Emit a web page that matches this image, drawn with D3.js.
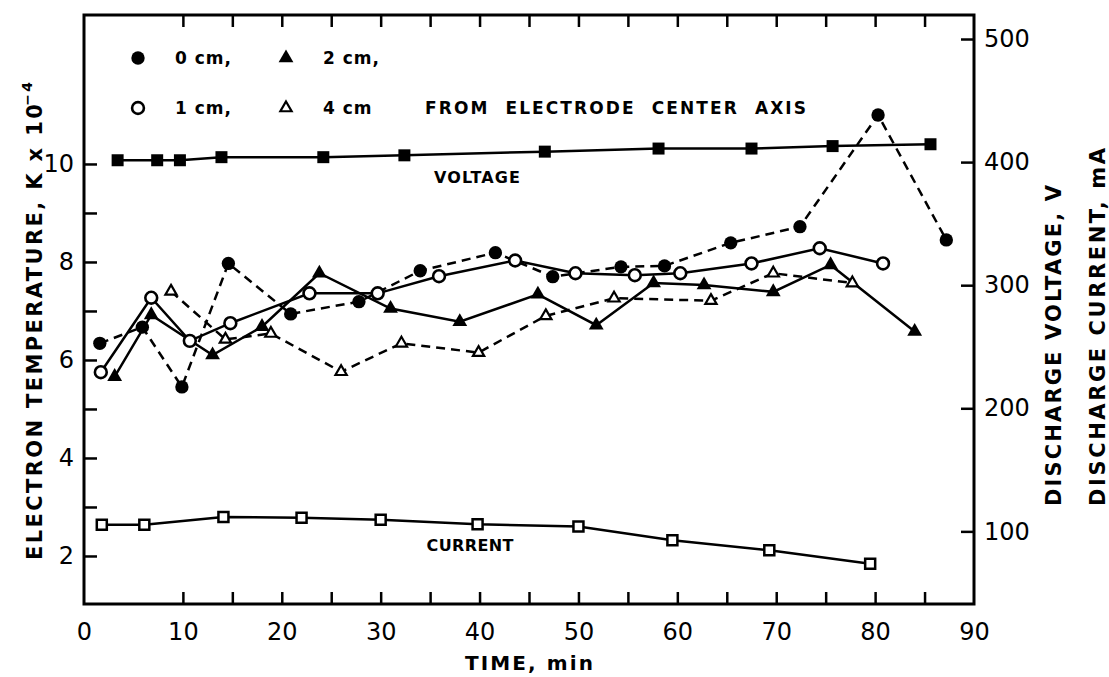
<!DOCTYPE html>
<html>
<head>
<meta charset="utf-8">
<script src="https://cdn.jsdelivr.net/npm/d3@7/dist/d3.min.js"></script>
<style>
  html, body { margin: 0; padding: 0; background: #fff; }
  svg { display: block; }
  text { fill: #000; }
</style>
</head>
<body>
<svg id="chart" width="1109" height="677"></svg>
<script>
// Electron temperature (K x 10^4) at four distances from the electrode axis
const time0cm = [1.6, 5.9, 9.9, 14.6, 20.9, 27.8, 34.0, 41.6, 47.4, 54.3, 58.7, 65.4, 72.4, 80.3, 87.2];
const temp0cm = [6.34, 6.67, 5.45, 7.97, 6.94, 7.19, 7.82, 8.19, 7.70, 7.90, 7.92, 8.39, 8.72, 11.0, 8.45];

const time1cm = [1.7, 6.8, 10.7, 14.8, 22.8, 29.7, 35.9, 43.6, 49.7, 55.7, 60.3, 67.5, 74.4, 80.8];
const temp1cm = [5.75, 7.27, 6.39, 6.75, 7.36, 7.36, 7.71, 8.03, 7.77, 7.73, 7.77, 7.97, 8.28, 7.97];

const time2cm = [3.1, 6.8, 13.0, 18.0, 23.8, 31.0, 38.0, 45.9, 51.8, 57.6, 62.7, 69.7, 75.5, 84.0];
const temp2cm = [5.66, 6.92, 6.10, 6.68, 7.77, 7.05, 6.78, 7.34, 6.71, 7.57, 7.53, 7.39, 7.94, 6.58];

const time4cm = [8.8, 14.3, 18.9, 26.0, 32.1, 39.9, 46.7, 53.6, 63.4, 69.7, 77.7];
const temp4cm = [7.40, 6.42, 6.54, 5.76, 6.34, 6.15, 6.90, 7.26, 7.21, 7.77, 7.57];

// Discharge voltage (V) and discharge current (mA), right-hand axis
const timeVoltage = [3.4, 7.4, 9.7, 13.9, 24.2, 32.4, 46.6, 58.1, 67.5, 75.7, 85.6];
const voltage     = [401.5, 401.5, 401.5, 404, 404, 405.5, 408.5, 411, 411, 413, 414.5];

const timeCurrent = [1.8, 6.1, 14.1, 22.0, 30.0, 39.8, 50.0, 59.5, 69.3, 79.5];
const current     = [105.4, 105.4, 111.6, 111.1, 109.5, 105.7, 104.0, 92.7, 84.6, 73.7];

// Axis ticks and labels
const timeTicks = d3.range(10, 86, 5);
const timeLabels = d3.range(0, 91, 10);
const tempTicks = d3.range(2, 11, 1);
const rightTicks = [100, 200, 300, 400, 500];

const legendRows = [
  [{ sym: "circleFilled", label: "0 cm," }, { sym: "triFilled", label: "2 cm," }],
  [{ sym: "circleOpen", label: "1 cm," }, { sym: "triOpen", label: "4 cm" }]
];

const svg = d3.select("#chart");
const W = 1109, H = 677;
const L = 84, R = 974, T = 15, B = 604;

svg.append("rect").attr("width", W).attr("height", H).attr("fill", "#fff");

const x = d3.scaleLinear().domain([0, 90]).range([L, R]);
const yT = d3.scaleLinear().domain([1.02, 13.04]).range([B, T]);
const yR = d3.scaleLinear().domain([41, 519.5]).range([B, T]);

const FONT = "'DejaVu Sans', sans-serif";

// ----- axes (ticks point inward) -----
function styleAxis(g) {
  g.select(".domain").remove();
  g.selectAll(".tick line").attr("stroke", "#000").attr("stroke-width", 2.5);
  g.selectAll(".tick text").attr("font-family", FONT).attr("font-size", 24).attr("fill", "#000");
}

svg.append("g").attr("transform", `translate(0,${B})`)
  .call(d3.axisBottom(x).tickValues(timeTicks).tickSize(-12).tickFormat(""))
  .call(styleAxis);
svg.append("g").attr("transform", `translate(0,${B})`)
  .call(d3.axisBottom(x).tickValues(timeLabels).tickSize(0).tickPadding(19).tickFormat(d3.format("d")))
  .call(styleAxis);
svg.append("g").attr("transform", `translate(0,${T})`)
  .call(d3.axisTop(x).tickValues(timeTicks).tickSize(-12).tickFormat(""))
  .call(styleAxis);
svg.append("g").attr("transform", `translate(${L},0)`)
  .call(d3.axisLeft(yT).tickValues(tempTicks).tickSize(-13).tickPadding(10)
    .tickFormat(d => d % 2 === 0 ? d : ""))
  .call(styleAxis);
svg.append("g").attr("transform", `translate(${R},0)`)
  .call(d3.axisRight(yR).tickValues(rightTicks).tickSize(-13).tickPadding(10).tickFormat(d3.format("d")))
  .call(styleAxis);

// plot frame
svg.append("rect")
  .attr("x", L).attr("y", T).attr("width", R - L).attr("height", B - T)
  .attr("fill", "none").attr("stroke", "#000").attr("stroke-width", 3);

// ----- series -----
const pts = (ts, vs) => d3.zip(ts, vs).map(([t, v]) => ({ t, v }));
const lineT = d3.line().x(d => x(d.t)).y(d => yT(d.v));
const lineR = d3.line().x(d => x(d.t)).y(d => yR(d.v));

const symbols = {
  circleFilled: { type: d3.symbolCircle, size: 140, fill: "#000", stroke: "none", sw: 0 },
  circleOpen:   { type: d3.symbolCircle, size: 110, fill: "#fff", stroke: "#000", sw: 2.6 },
  triFilled:    { type: d3.symbolTriangle, size: 95, fill: "#000", stroke: "none", sw: 0 },
  triOpen:      { type: d3.symbolTriangle, size: 55, fill: "#fff", stroke: "#000", sw: 2.2 },
  sqFilled:     { type: d3.symbolSquare, size: 144, fill: "#000", stroke: "none", sw: 0 },
  sqOpen:       { type: d3.symbolSquare, size: 100, fill: "#fff", stroke: "#000", sw: 2.5 }
};

function drawSymbol(g, key, cx, cy) {
  const s = symbols[key];
  g.append("path")
    .attr("d", d3.symbol().type(s.type).size(s.size)())
    .attr("transform", `translate(${cx},${cy})`)
    .attr("fill", s.fill).attr("stroke", s.stroke).attr("stroke-width", s.sw);
}

const series = [
  { data: pts(timeVoltage, voltage), line: lineR, y: yR, sym: "sqFilled", dash: null },
  { data: pts(timeCurrent, current), line: lineR, y: yR, sym: "sqOpen", dash: null },
  { data: pts(time4cm, temp4cm), line: lineT, y: yT, sym: "triOpen", dash: "9,6" },
  { data: pts(time0cm, temp0cm), line: lineT, y: yT, sym: "circleFilled", dash: "9,6" },
  { data: pts(time2cm, temp2cm), line: lineT, y: yT, sym: "triFilled", dash: null },
  { data: pts(time1cm, temp1cm), line: lineT, y: yT, sym: "circleOpen", dash: null }
];

const linesG = svg.append("g");
const marksG = svg.append("g");
series.forEach(s => {
  linesG.append("path")
    .attr("d", s.line(s.data))
    .attr("fill", "none").attr("stroke", "#000").attr("stroke-width", 2.5)
    .attr("stroke-dasharray", s.dash);
});
series.forEach(s => {
  s.data.forEach(d => drawSymbol(marksG, s.sym, x(d.t), s.y(d.v)));
});

// ----- legend -----
const legendG = svg.append("g");
legendRows.forEach((row, ri) => {
  const cy = 58 + ri * 50;
  row.forEach((item, ci) => {
    const cx = 138 + ci * 148;
    drawSymbol(legendG, item.sym, cx, cy);
    legendG.append("text")
      .attr("x", cx + 37).attr("y", cy + 6)
      .attr("font-family", FONT).attr("font-weight", "bold").attr("font-size", 17)
      .attr("letter-spacing", 1)
      .text(item.label);
  });
});
legendG.append("text")
  .attr("x", 425).attr("y", 114)
  .attr("font-family", FONT).attr("font-weight", "bold").attr("font-size", 17)
  .attr("word-spacing", 8)
  .attr("textLength", 381).attr("lengthAdjust", "spacing")
  .text("FROM ELECTRODE CENTER AXIS");

// series labels
svg.append("text")
  .attr("x", 477).attr("y", 182.5).attr("text-anchor", "middle")
  .attr("font-family", FONT).attr("font-weight", "bold").attr("font-size", 16)
  .attr("textLength", 86).attr("lengthAdjust", "spacing")
  .text("VOLTAGE");
svg.append("text")
  .attr("x", 470).attr("y", 550.5).attr("text-anchor", "middle")
  .attr("font-family", FONT).attr("font-weight", "bold").attr("font-size", 16)
  .attr("textLength", 87).attr("lengthAdjust", "spacing")
  .text("CURRENT");

// ----- axis titles -----
svg.append("text")
  .attr("x", 529).attr("y", 670).attr("text-anchor", "middle")
  .attr("font-family", FONT).attr("font-weight", "bold").attr("font-size", 20)
  .attr("textLength", 128).attr("lengthAdjust", "spacing")
  .text("TIME, min");

const leftTitle = svg.append("text")
  .attr("transform", "translate(42,560) rotate(-90)")
  .attr("font-family", FONT).attr("font-weight", "bold").attr("font-size", 21)
  .attr("textLength", 478).attr("lengthAdjust", "spacing");
leftTitle.append("tspan").text("ELECTRON  TEMPERATURE,  K x 10");
leftTitle.append("tspan").attr("dy", -10).attr("dx", -4).attr("font-size", 14).text("−4");

svg.append("text")
  .attr("transform", "translate(1061,506) rotate(-90)")
  .attr("font-family", FONT).attr("font-weight", "bold").attr("font-size", 21)
  .attr("textLength", 321).attr("lengthAdjust", "spacing")
  .text("DISCHARGE  VOLTAGE, V");
svg.append("text")
  .attr("transform", "translate(1105,506) rotate(-90)")
  .attr("font-family", FONT).attr("font-weight", "bold").attr("font-size", 21)
  .attr("textLength", 358).attr("lengthAdjust", "spacing")
  .text("DISCHARGE  CURRENT, mA");
</script>
</body>
</html>
